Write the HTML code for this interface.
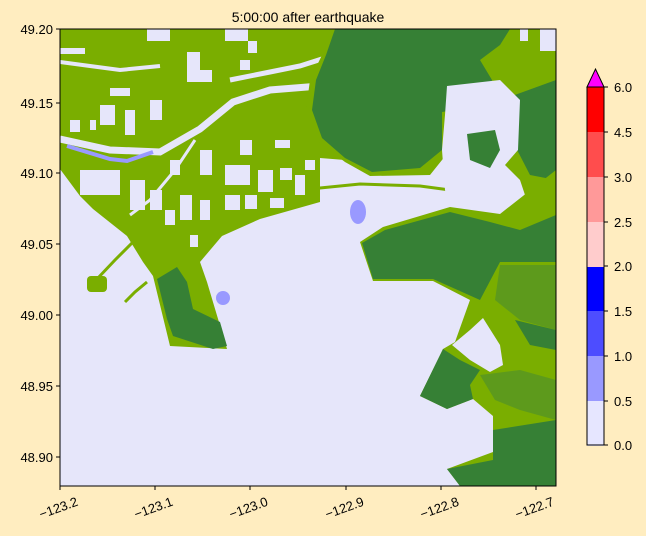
<!DOCTYPE html>
<html><head><meta charset="utf-8"><style>
html,body{margin:0;padding:0;background:#ffedc0;}
svg{display:block;font-family:"Liberation Sans","DejaVu Sans",sans-serif;}
</style></head><body>
<svg width="646" height="536" viewBox="0 0 646 536" xmlns="http://www.w3.org/2000/svg">
<rect width="646" height="536" fill="#ffedc0"/>
<defs><clipPath id="c"><rect x="60" y="29" width="496" height="457"/></clipPath></defs>
<g clip-path="url(#c)">
<rect x="60" y="29" width="496" height="457" fill="#e6e6fa"/>
<!-- left light green land -->
<polygon fill="#7aae00" points="60,29 340,29 330,55 318,80 312,110 322,140 345,160 320,158 320,202 260,219 222,236 200,262 207,282 227,349 170,346 153,276 143,262 127,236 93,209 80,196 60,169"/>
<polyline fill="none" stroke="#7aae00" stroke-width="3" points="250,184 320,188 360,184 420,186 450,190"/>
<!-- rivers -->
<polyline fill="none" stroke="#e6e6fa" stroke-width="7" points="60,139 110,150 160,152 200,129 233,102 270,90 320,86 345,70"/>
<polyline fill="none" stroke="#e6e6fa" stroke-width="5" points="230,80 270,72 300,66 325,58"/>
<polyline fill="none" stroke="#e6e6fa" stroke-width="4" points="60,62 90,66 120,70 160,66"/>
<polyline fill="none" stroke="#e6e6fa" stroke-width="3" points="195,140 175,170 150,200 130,215"/>
<polyline fill="none" stroke="#9999ff" stroke-width="4" points="67,146 110,159 127,161 153,152"/>
<!-- holes -->
<g fill="#e6e6fa">
<rect x="147" y="29" width="23" height="12"/><rect x="225" y="29" width="23" height="12"/><rect x="248" y="41" width="9" height="12"/>
<rect x="187" y="52" width="13" height="30"/><rect x="200" y="70" width="12" height="12"/>
<rect x="100" y="105" width="15" height="20"/><rect x="125" y="110" width="10" height="25"/><rect x="150" y="100" width="12" height="20"/>
<rect x="80" y="170" width="40" height="25"/><rect x="130" y="180" width="15" height="30"/><rect x="150" y="190" width="12" height="20"/>
<rect x="180" y="195" width="12" height="25"/><rect x="200" y="200" width="10" height="20"/><rect x="225" y="165" width="25" height="20"/>
<rect x="200" y="150" width="12" height="25"/><rect x="225" y="195" width="15" height="15"/><rect x="170" y="160" width="10" height="15"/>
<rect x="165" y="210" width="10" height="15"/><rect x="190" y="235" width="8" height="12"/><rect x="240" y="140" width="12" height="15"/>
<rect x="275" y="140" width="15" height="8"/><rect x="90" y="120" width="6" height="10"/><rect x="70" y="120" width="10" height="12"/>
<rect x="110" y="88" width="20" height="8"/><rect x="60" y="48" width="25" height="6"/><rect x="240" y="60" width="10" height="10"/>
<rect x="258" y="170" width="15" height="22"/><rect x="280" y="168" width="12" height="12"/><rect x="295" y="175" width="10" height="20"/>
<rect x="245" y="195" width="12" height="14"/><rect x="270" y="198" width="14" height="10"/><rect x="305" y="160" width="10" height="10"/>
</g>
<!-- Tsawwassen spits -->
<polyline fill="none" stroke="#7aae00" stroke-width="3" points="133,242 115,260 97,279"/>
<rect x="87" y="276" width="20" height="16" rx="4" fill="#7aae00"/>
<polyline fill="none" stroke="#7aae00" stroke-width="3" points="147,282 135,292 125,302"/>
<!-- Point Roberts -->
<polygon fill="#368035" points="157,279 177,267 187,282 193,309 220,322 227,346 213,349 173,336 167,319"/>
<ellipse cx="223" cy="298" rx="7" ry="7" fill="#9999ff"/>
<ellipse cx="358" cy="212" rx="8" ry="12" fill="#9999ff"/>
<!-- top right dark land -->
<polygon fill="#7aae00" points="330,29 556,29 556,200 530,210 520,180 505,165 500,120 450,115 450,150 430,175 370,176 345,162 316,140 306,110 310,80 322,55"/>
<polygon fill="#368035" points="335,29 510,29 500,45 480,60 492,80 488,105 442,112 442,150 420,168 372,172 345,158 322,138 312,110 316,80 326,55"/>
<polygon fill="#368035" points="512,96 556,80 556,180 530,175 512,140"/>
<rect x="510" y="29" width="35" height="22" fill="#7aae00"/>
<rect x="520" y="29" width="8" height="12" fill="#e6e6fa"/><rect x="540" y="29" width="16" height="22" fill="#e6e6fa"/>
<!-- bay -->
<polygon fill="#e6e6fa" points="447,86 500,80 520,100 518,150 505,165 500,200 470,220 450,212 445,190 442,150 445,115"/>
<polygon fill="#368035" points="467,134 495,130 500,150 490,168 470,160"/>
<!-- right strip + middle land -->
<polygon fill="#7aae00" points="360,242 383,227 450,207 500,214 556,170 556,486 460,486 447,469 493,452 493,416 473,399 447,409 420,396 443,349 455,342 470,300 433,281 373,281"/>
<polygon fill="#368035" points="362,243 385,230 450,212 490,222 520,230 556,215 556,262 500,262 480,300 433,279 373,279"/>
<polygon fill="#5d9a1c" points="500,265 556,265 556,330 520,320 495,300"/>
<polygon fill="#368035" points="515,320 556,330 556,350 530,345"/>
<!-- lower right -->
<polygon fill="#e6e6fa" points="452,345 470,330 483,318 500,345 503,365 490,372 470,360"/>
<polygon fill="#368035" points="443,349 460,360 480,370 470,385 473,399 447,409 420,396"/>
<polygon fill="#5d9a1c" points="480,375 520,370 556,380 556,420 520,410 495,400"/>
<polygon fill="#368035" points="493,430 556,420 556,486 460,486 447,469 493,460"/>
</g>
<rect x="60" y="29" width="496" height="457" fill="none" stroke="#000" stroke-width="1"/>
<text x="308" y="22" font-size="14" text-anchor="middle">5:00:00 after earthquake</text>
<g font-size="13" text-anchor="end">
<text x="53" y="34">49.20</text><text x="53" y="108">49.15</text><text x="53" y="178">49.10</text>
<text x="53" y="249">49.05</text><text x="53" y="320">49.00</text><text x="53" y="391">48.95</text><text x="53" y="462">48.90</text>
</g>
<g stroke="#000"><line x1="56" x2="60" y1="29" y2="29"/><line x1="56" x2="60" y1="103" y2="103"/><line x1="56" x2="60" y1="173" y2="173"/><line x1="56" x2="60" y1="244" y2="244"/><line x1="56" x2="60" y1="315" y2="315"/><line x1="56" x2="60" y1="386" y2="386"/><line x1="56" x2="60" y1="457" y2="457"/>
<line x1="60" x2="60" y1="486" y2="490"/><line x1="155" x2="155" y1="486" y2="490"/><line x1="250" x2="250" y1="486" y2="490"/><line x1="346" x2="346" y1="486" y2="490"/><line x1="441" x2="441" y1="486" y2="490"/><line x1="536" x2="536" y1="486" y2="490"/></g>
<g font-size="13" text-anchor="middle">
<text transform="translate(60,512) rotate(-20)">−123.2</text>
<text transform="translate(155,512) rotate(-20)">−123.1</text>
<text transform="translate(250,512) rotate(-20)">−123.0</text>
<text transform="translate(346,512) rotate(-20)">−122.9</text>
<text transform="translate(441,512) rotate(-20)">−122.8</text>
<text transform="translate(536,512) rotate(-20)">−122.7</text>
</g>
<!-- colorbar -->
<rect x="587" y="401" width="17" height="45" fill="#e6e6ff"/>
<rect x="587" y="356" width="17" height="45" fill="#9999ff"/>
<rect x="587" y="311" width="17" height="45" fill="#4d4dff"/>
<rect x="587" y="266" width="17" height="45" fill="#0000ff"/>
<rect x="587" y="222" width="17" height="45" fill="#ffcccc"/>
<rect x="587" y="177" width="17" height="45" fill="#ff9999"/>
<rect x="587" y="132" width="17" height="45" fill="#ff4d4d"/>
<rect x="587" y="87" width="17" height="45" fill="#ff0000"/>
<polygon points="587,87 595.5,69 604,87" fill="#ff00ff" stroke="#000"/>
<rect x="587" y="87" width="17" height="358" fill="none" stroke="#000"/>
<g stroke="#000"><line x1="604" x2="608" y1="87" y2="87"/><line x1="604" x2="608" y1="132" y2="132"/><line x1="604" x2="608" y1="177" y2="177"/><line x1="604" x2="608" y1="222" y2="222"/><line x1="604" x2="608" y1="266" y2="266"/><line x1="604" x2="608" y1="311" y2="311"/><line x1="604" x2="608" y1="356" y2="356"/><line x1="604" x2="608" y1="401" y2="401"/><line x1="604" x2="608" y1="445" y2="445"/></g>
<g font-size="13">
<text x="614" y="92">6.0</text><text x="614" y="137">4.5</text><text x="614" y="182">3.0</text><text x="614" y="227">2.5</text><text x="614" y="271">2.0</text><text x="614" y="316">1.5</text><text x="614" y="361">1.0</text><text x="614" y="406">0.5</text><text x="614" y="450">0.0</text>
</g>
</svg>
</body></html>
